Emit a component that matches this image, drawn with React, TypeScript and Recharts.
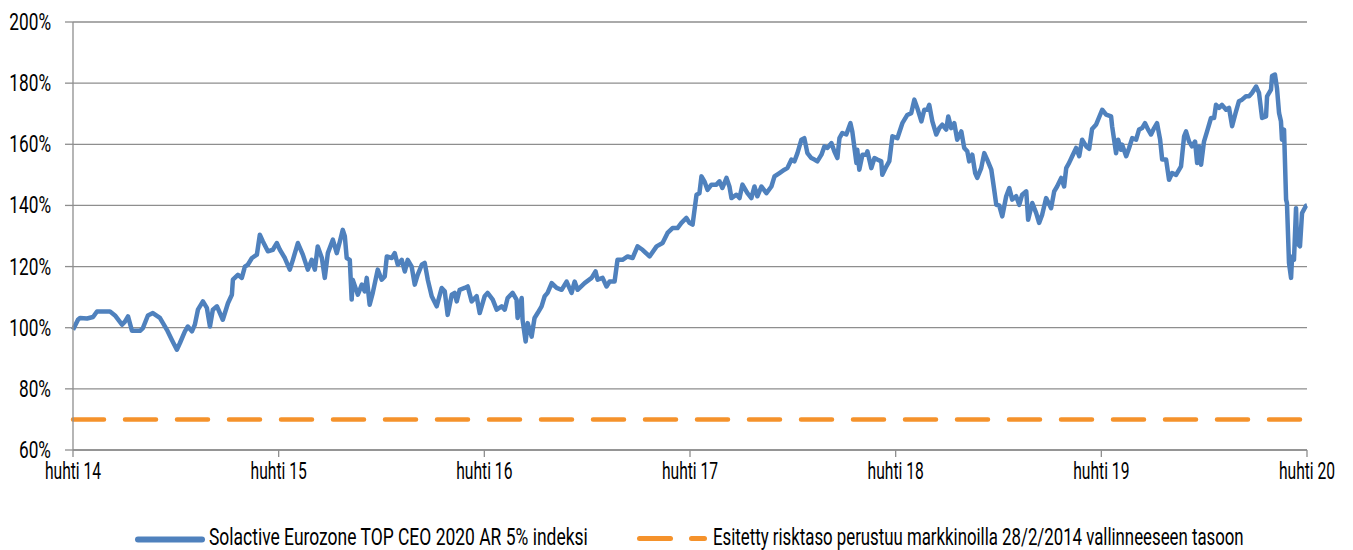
import { useLayoutEffect, useRef, useState } from "react";
import { LineChart, Line, XAxis, YAxis, CartesianGrid, ReferenceLine } from "recharts";

// [months since April 2014, index level %]
const indexPoints: [number, number][] = [
  [0, 99.3], [0.29, 102.6], [0.41, 103.2], [0.82, 103.0], [1.17, 103.5], [1.4, 105.3], [2.16, 105.3], [2.45, 104],
  [2.86, 101], [3.03, 102], [3.21, 103.7], [3.44, 99], [3.91, 99], [4.08, 99.9], [4.37, 104], [4.66, 104.8],
  [5.07, 103.2], [5.48, 99.3], [5.77, 96], [6.06, 92.8], [6.24, 95], [6.53, 98.8], [6.7, 100.4], [6.94, 98.8],
  [7.11, 101], [7.29, 105.9], [7.58, 108.6], [7.81, 106.5], [7.99, 100.4], [8.16, 105.9], [8.4, 107], [8.74, 102.6],
  [9.04, 108], [9.27, 110.8], [9.33, 115.7], [9.62, 117.3], [9.85, 116.3], [10.03, 120], [10.2, 120.6], [10.44, 122.8],
  [10.73, 123.9], [10.9, 130.4], [11.08, 128.2], [11.37, 125], [11.66, 125.5], [11.89, 127.7], [12.07, 125.5],
  [12.36, 122.8], [12.65, 119], [12.83, 122.2], [13.12, 127.7], [13.41, 123.9], [13.7, 119], [13.93, 122.2],
  [14.11, 119], [14.28, 126.6], [14.52, 122.8], [14.69, 116.3], [14.87, 124.4], [15.16, 128.8], [15.39, 124.4],
  [15.57, 128.2], [15.74, 132], [15.86, 129.9], [15.97, 122.8], [16.15, 122.2], [16.26, 109.2], [16.32, 115.7],
  [16.62, 110.8], [16.85, 114.1], [17.02, 111.9], [17.14, 116.3], [17.31, 107.5], [17.49, 111.4], [17.78, 119],
  [18.01, 115.7], [18.19, 116.8], [18.31, 123.3], [18.6, 122.8], [18.77, 124.4], [18.95, 120.6], [19.18, 122.2],
  [19.36, 118.4], [19.53, 122.2], [19.76, 120], [19.94, 114.1], [20.11, 117.3], [20.35, 120.6], [20.52, 121.2],
  [20.7, 115.7], [20.93, 110.3], [21.22, 107], [21.51, 113], [21.69, 111.9], [21.86, 104.2], [22.1, 110.8],
  [22.27, 111.4], [22.39, 108.6], [22.56, 112.4], [22.85, 113], [23.03, 113.5], [23.26, 108.6], [23.55, 110.3],
  [23.73, 104.8], [24.02, 110.3], [24.19, 111.4], [24.49, 109.2], [24.72, 105.9], [25.01, 107], [25.19, 105.9],
  [25.36, 109.7], [25.65, 111.4], [25.88, 109.2], [25.94, 103.2], [26.18, 109.7], [26.23, 102.6], [26.41, 95.5],
  [26.53, 101.5], [26.76, 97.1], [26.93, 103.2], [27.11, 104.8], [27.34, 107], [27.52, 110.3], [27.69, 111.4],
  [27.93, 114.6], [28.22, 113], [28.51, 112.4], [28.8, 115.1], [29.09, 111.4], [29.27, 115.1], [29.44, 112.4],
  [29.85, 114.6], [30.26, 116.3], [30.49, 118.4], [30.61, 115.7], [30.9, 116.3], [31.13, 113.5], [31.31, 115.1],
  [31.6, 115.1], [31.77, 122.2], [32.06, 122.2], [32.36, 123.3], [32.65, 122.8], [32.94, 126.6], [33.23, 125.5],
  [33.64, 123.3], [34.05, 126.6], [34.4, 127.7], [34.69, 131], [34.98, 132.6], [35.27, 132.6], [35.5, 134.3],
  [35.79, 135.9], [35.97, 134.3], [36.15, 133.7], [36.38, 143.5], [36.55, 144], [36.67, 149.5], [36.84, 147.9],
  [37.02, 145.1], [37.25, 146.8], [37.54, 146.8], [37.72, 147.9], [37.89, 145.7], [38.13, 149], [38.3, 146.2],
  [38.42, 142.4], [38.71, 143.5], [38.89, 142.4], [39.06, 146.8], [39.35, 144], [39.58, 142.4], [39.76, 146.2],
  [39.93, 143], [40.17, 146.2], [40.46, 144], [40.75, 146.2], [40.93, 149.5], [41.22, 150.6], [41.51, 151.7],
  [41.68, 152.2], [41.92, 155], [42.09, 154.4], [42.27, 157.1], [42.5, 161.5], [42.67, 162], [42.85, 157.1],
  [43.08, 155.5], [43.26, 155], [43.43, 154.4], [43.67, 156.6], [43.84, 159.3], [44.02, 158.8], [44.25, 160.4],
  [44.42, 157.7], [44.6, 155.5], [44.72, 162], [44.89, 163.7], [45.12, 163.2], [45.36, 166.9], [45.47, 164.2],
  [45.71, 153.9], [45.76, 158.2], [45.88, 151.7], [46.06, 156.6], [46.29, 156.6], [46.35, 157.7], [46.58, 152.2],
  [46.76, 155.5], [46.93, 155], [47.16, 154.4], [47.22, 150], [47.46, 152.8], [47.63, 154.5], [47.81, 162.6],
  [48.1, 162], [48.39, 166.9], [48.68, 169.6], [48.91, 170.2], [49.09, 174.6], [49.26, 171.9], [49.5, 167.5],
  [49.67, 171.3], [49.85, 171.3], [49.96, 172.9], [50.14, 167.5], [50.37, 163.2], [50.55, 165.3], [50.72, 166.4],
  [50.95, 164.8], [51.07, 169.1], [51.24, 165.3], [51.42, 166.9], [51.59, 161.5], [51.83, 164.2], [52.0, 158.8],
  [52.18, 157.7], [52.29, 154.4], [52.47, 156.6], [52.64, 150.6], [52.76, 149], [52.99, 152.2], [53.17, 157.1],
  [53.34, 155], [53.58, 151.7], [53.75, 145.1], [53.87, 140.2], [54.04, 140], [54.22, 136.4], [54.45, 143],
  [54.63, 145.7], [54.8, 141.9], [55.03, 143], [55.21, 140.2], [55.38, 143.5], [55.62, 144.6], [55.73, 135.3],
  [55.97, 140.8], [56.2, 137.5], [56.37, 134.3], [56.55, 137], [56.78, 142.4], [57.07, 139.1], [57.25, 144.6],
  [57.42, 146.2], [57.66, 149], [57.83, 146.2], [57.95, 152.2], [58.12, 153.9], [58.3, 156.1], [58.53, 158.8],
  [58.71, 156.1], [58.88, 161.5], [59.12, 159.3], [59.29, 158.5], [59.46, 165], [59.7, 166.5], [60.05, 171.3],
  [60.28, 169.7], [60.57, 169.1], [60.63, 165.9], [60.86, 157.1], [60.98, 161.5], [61.15, 158.2], [61.21, 159.9],
  [61.45, 156.1], [61.62, 158.8], [61.8, 162], [62.03, 161.5], [62.2, 164.8], [62.38, 165.3], [62.55, 166.9],
  [62.73, 164.8], [62.9, 163.2], [63.08, 165.3], [63.25, 166.9], [63.43, 161.5], [63.55, 155], [63.78, 155],
  [63.95, 148.4], [64.13, 150.6], [64.36, 150], [64.65, 152.8], [64.83, 162.6], [64.94, 164.2], [65.12, 160.9],
  [65.29, 159.3], [65.47, 160.9], [65.59, 153.9], [65.7, 159.3], [65.82, 153.3], [65.99, 160.9], [66.17, 164.2],
  [66.4, 168.6], [66.58, 168.6], [66.69, 172.9], [66.87, 171.9], [67.04, 172.9], [67.28, 171.3], [67.45, 171.9],
  [67.63, 165.9], [67.86, 170.8], [68.03, 174.1], [68.21, 174.6], [68.44, 175.7], [68.62, 175.7], [68.79, 176.8],
  [69.03, 178.9], [69.2, 176.8], [69.38, 168.6], [69.61, 169.1], [69.67, 175.7], [69.9, 177.9], [69.96, 182.3],
  [70.13, 182.8], [70.25, 178.3], [70.37, 170.2], [70.48, 167.5], [70.54, 161.5], [70.66, 164.8], [70.78, 141.9],
  [70.83, 140.8], [70.95, 121.2], [71.07, 116.3], [71.13, 123.3], [71.24, 122.2], [71.36, 139.1], [71.42, 127.7],
  [71.59, 126.6], [71.71, 137.5], [71.94, 139.9], [72, 140],
];

const riskLevel = 70;
const yTicks = [60, 80, 100, 120, 140, 160, 180, 200];
const xTicks = [0, 12, 24, 36, 48, 60, 72];
const xTickLabels = ["huhti 14", "huhti 15", "huhti 16", "huhti 17", "huhti 18", "huhti 19", "huhti 20"];
const seriesNames = [
  "Solactive Eurozone TOP CEO 2020 AR 5% indeksi",
  "Esitetty risktaso perustuu markkinoilla 28/2/2014 vallinneeseen tasoon",
];

const BLUE = "#4F81BD";
const ORANGE = "#F5922B";
const GRID = "#8E8E8E";
const FONT = "Roboto, 'Liberation Sans', sans-serif";

const data = indexPoints.map(([t, v]) => ({ t, index: v }));

// the source uses a condensed face; squeeze a normal one horizontally
const YTick = ({ x, y, payload }: any) => (
  <text transform={`translate(${x},${y + 8}) scale(0.75,1)`} textAnchor="end" fontSize={23} fill="#000" fontFamily={FONT}>
    {`${payload.value}%`}
  </text>
);

const XTick = ({ x, y, payload }: any) => (
  <text transform={`translate(${x},${y + 16}) scale(0.68,1)`} textAnchor="middle" fontSize={23} fill="#000" fontFamily={FONT}>
    {xTickLabels[Math.round(payload.value / 12)]}
  </text>
);

// legend text squeezed to the width it has in the source
function FitText({ x, y, width, children }: { x: number; y: number; width: number; children: string }) {
  const ref = useRef<SVGTextElement>(null);
  const [sx, setSx] = useState(0.7);
  useLayoutEffect(() => {
    const w = ref.current?.getComputedTextLength();
    if (w) setSx(width / w);
  }, [width]);
  return (
    <text ref={ref} transform={`translate(${x},${y}) scale(${sx},1)`} fontSize={23} fontFamily={FONT} fill="#000">
      {children}
    </text>
  );
}

export default function App() {
  return (
    <div style={{ position: "absolute", left: 0, top: 0, width: 1353, height: 550, background: "#fff" }}>
      <LineChart width={1353} height={500} data={data} margin={{ top: 22, right: 46, left: 0, bottom: 20 }}>
        <CartesianGrid vertical={false} stroke={GRID} strokeWidth={1.3} />
        <XAxis
          dataKey="t"
          type="number"
          domain={[0, 72]}
          ticks={xTicks}
          height={30}
          axisLine={{ stroke: GRID, strokeWidth: 1.3 }}
          tickLine={{ stroke: GRID, strokeWidth: 1.3 }}
          tickSize={7}
          tickMargin={6}
          tick={<XTick />}
        />
        <YAxis
          type="number"
          domain={[60, 200]}
          ticks={yTicks}
          width={73}
          axisLine={{ stroke: GRID, strokeWidth: 1.3 }}
          tickLine={{ stroke: GRID, strokeWidth: 1.3 }}
          tickSize={8}
          tickMargin={14}
          tick={<YTick />}
        />
        <ReferenceLine y={riskLevel} stroke={ORANGE} strokeWidth={4.5} strokeDasharray="31 21" strokeLinecap="round" />
        <Line
          type="linear"
          dataKey="index"
          stroke={BLUE}
          strokeWidth={4.5}
          strokeLinejoin="round"
          dot={false}
          isAnimationActive={false}
        />
      </LineChart>
      <svg width={1353} height={50} style={{ position: "absolute", left: 0, top: 500 }}>
        <line x1={138} y1={39.5} x2={202} y2={39.5} stroke={BLUE} strokeWidth={6} strokeLinecap="round" />
        <FitText x={209} y={45} width={379}>{seriesNames[0]}</FitText>
        <line x1={639.5} y1={38.5} x2={670.5} y2={38.5} stroke={ORANGE} strokeWidth={5} strokeLinecap="round" />
        <line x1={691.5} y1={38.5} x2={704.5} y2={38.5} stroke={ORANGE} strokeWidth={5} strokeLinecap="round" />
        <FitText x={713} y={45} width={531}>{seriesNames[1]}</FitText>
      </svg>
    </div>
  );
}
